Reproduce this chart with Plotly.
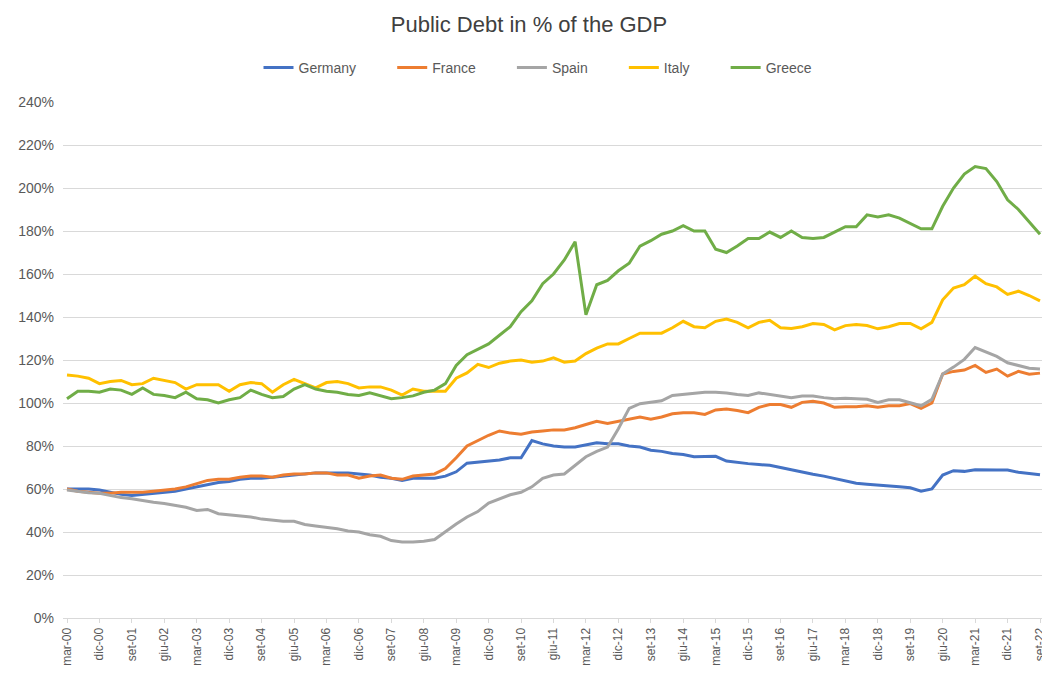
import plotly.graph_objects as go

months = ["mar", "giu", "set", "dic"]
quarters = [f"{months[i % 4]}-{(i // 4):02d}" for i in range(91)]

germany = [60, 60, 60, 59.5, 58.5, 57.5, 57, 57.5, 58, 58.5, 59, 60, 61, 62, 63, 63.5, 64.5, 65, 65, 65.5,
           66, 66.5, 67, 67.5, 67.5, 67.5, 67.5, 67, 66.5, 65.5, 65, 64, 65, 65, 65, 66, 68, 72, 72.5, 73,
           73.5, 74.5, 74.5, 82.5, 81, 80, 79.5, 79.5, 80.5, 81.5, 81, 81, 80, 79.5, 78, 77.5, 76.5, 76, 75, 75.2,
           75.2, 73, 72.3, 71.8, 71.4, 71, 70, 68.9, 67.7, 66.9, 66, 64.9, 63.6, 62.7, 62.2, 61.9, 61.4, 61, 60.6, 59,
           60, 66.5, 68.5, 68.2, 69, 68.8, 68.8, 68.8, 67.8, 67.2, 66.6]
france = [60, 59, 58.5, 58, 58, 58.5, 58.5, 58.5, 59, 59.5, 60, 61, 62.5, 64, 64.5, 64.5, 65.5, 66, 66, 65.5,
          66.5, 67, 67, 67.5, 67.5, 66.5, 66.5, 65, 66, 66.5, 65, 64.5, 66, 66.5, 67, 69.5, 74.5, 80, 82.5, 85,
          87, 86, 85.5, 86.5, 87, 87.5, 87.5, 88.5, 90, 91.5, 90.5, 91.5, 92.5, 93.5, 92.5, 93.5, 95, 95.5, 95.5, 94.7,
          96.8, 97.2, 96.5, 95.5, 98, 99.3, 99.3, 98, 100.3, 100.8, 100, 98, 98.3, 98.3, 98.7, 98, 98.7, 98.7, 99.7, 97.5,
          100, 113.5, 114.7, 115.3, 117.5, 114.2, 115.8, 112.5, 114.7, 113.4, 113.9]
spain = [59.5, 58.8, 58.3, 58, 57, 56, 55.5, 54.5, 53.8, 53.3, 52.5, 51.5, 50, 50.5, 48.5, 48, 47.8, 47, 46, 45.5,
         45, 45, 43.5, 42.8, 42.3, 41.5, 40.5, 40, 38.7, 38, 36, 35.3, 35.3, 35.7, 36.5, 40.3, 43.7, 47, 49.5, 53.5,
         55.3, 57.3, 58.5, 61, 65, 66.5, 67, 71, 75, 77.5, 79.5, 88, 97.5, 99.7, 100.3, 101, 103.5, 104, 104.7, 105,
         105, 104.7, 104, 103.5, 104.7, 104, 103, 102.5, 103.3, 103.3, 102.5, 102, 102.2, 102, 101.7, 100.3, 101.5, 101.5, 100, 98.7,
         101.7, 113.5, 116.7, 120.3, 125.8, 123.7, 121.7, 118.7, 117.5, 116.2, 115.8]
italy = [113, 112.5, 111.5, 109, 110, 110.5, 108.5, 109, 111.5, 110.5, 109.5, 106.5, 108.5, 108.5, 108.5, 105.5, 108.5, 109.5, 109, 105,
         108.5, 111, 109, 107, 109.5, 110, 109, 107, 107.5, 107.5, 106, 103.7, 106.5, 105.5, 105.5, 105.5, 111.5, 114, 118, 116.5,
         118.5, 119.5, 120, 119, 119.5, 121, 119, 119.5, 123, 125.5, 127.5, 127.5, 130, 132.5, 132.5, 132.5, 135, 138, 135.5, 135,
         138, 139, 137.5, 135, 137.5, 138.5, 135, 134.7, 135.5, 137, 136.5, 134, 136, 136.5, 136, 134.5, 135.5, 137, 137, 134.5,
         137.5, 148, 153.5, 155, 159, 155.5, 154, 150.5, 152, 150, 147.5]
greece = [102, 105.5, 105.5, 105, 106.5, 106, 104, 107, 104, 103.5, 102.5, 105, 102, 101.5, 100, 101.5, 102.5, 106, 104, 102.5,
          103, 106.5, 108.5, 106.5, 105.5, 105, 104, 103.5, 104.7, 103.3, 102, 102.5, 103.3, 105, 106, 109, 117.5, 122.5, 125, 127.5,
          131.5, 135.5, 142.5, 147.5, 155.5, 160, 166.5, 175, 141, 155, 157, 161.5, 165, 173, 175.5, 178.5, 180, 182.5, 180, 180,
          171.5, 170, 173, 176.5, 176.5, 179.5, 177, 180, 177, 176.5, 177, 179.5, 182, 182, 187.5, 186.5, 187.5, 186, 183.5, 181,
          181, 191.5, 200, 206.5, 210, 209, 203, 194.5, 190, 184, 178.5]

series = [("Germany", germany, "#4472C4"), ("France", france, "#ED7D31"), ("Spain", spain, "#A5A5A5"),
          ("Italy", italy, "#FFC000"), ("Greece", greece, "#70AD47")]

pad = "\u00a0" * 8
x = list(range(len(quarters)))
fig = go.Figure()
for name, vals, col in series:
    fig.add_trace(go.Scatter(x=x, y=[v / 100 for v in vals], mode="lines", name=name + pad,
                             line=dict(color=col, width=3)))

tickvals = x[::3]
ticktext = [quarters[i] for i in tickvals]

fig.update_layout(
    width=1042, height=674,
    paper_bgcolor="white", plot_bgcolor="white",
    margin=dict(l=55, r=3, t=94, b=64),
    title=dict(text="Public Debt in % of the GDP", x=0.5, xanchor="center", y=0.976, yanchor="middle",
               font=dict(family="Liberation Sans", size=22, color="#404040")),
    legend=dict(orientation="h", x=0.5, xanchor="center", y=1.066, yanchor="middle",
                font=dict(family="Liberation Sans", size=14, color="#595959"),
                itemwidth=30),
    xaxis=dict(tickmode="array", tickvals=tickvals, ticktext=ticktext, tickangle=-90,
               range=[-0.37, 90.37], showgrid=False, zeroline=False,
               showline=True, linecolor="#d9d9d9", ticks="outside", ticklen=4, tickcolor="#d9d9d9",
               tickfont=dict(family="Liberation Sans", size=12, color="#595959")),
    yaxis=dict(range=[0, 2.4], tickvals=[i * 0.2 for i in range(13)], tickformat=".0%",
               showgrid=True, gridcolor="#d9d9d9", zeroline=False, ticklabelstandoff=8,
               tickfont=dict(family="Liberation Sans", size=14, color="#595959")),
)

fig.write_html("out.html")
